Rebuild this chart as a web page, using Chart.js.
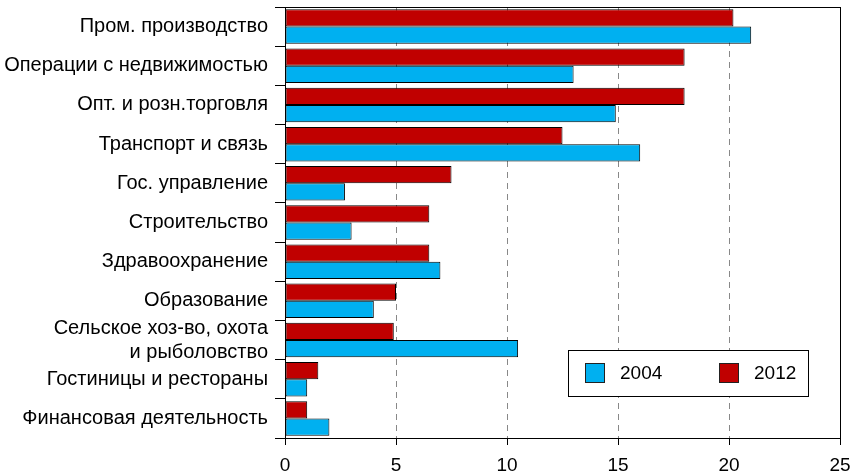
<!DOCTYPE html>
<html>
<head>
<meta charset="utf-8">
<script src="https://cdn.jsdelivr.net/npm/chart.js@4.4.1/dist/chart.umd.min.js"></script>
<style>
  html, body { margin: 0; padding: 0; background: #fff; }
  #wrap { width: 855px; height: 476px; }
</style>
</head>
<body>
<div id="wrap"><canvas id="barCanvas"></canvas></div>
<script>
///// données
let branches = [
    "Пром. производство",
    "Операции с недвижимостью",
    "Опт. и розн.торговля",
    "Транспорт и связь",
    "Гос. управление",
    "Строительство",
    "Здравоохранение",
    "Образование",
    ["Сельское хоз-во, охота", "и рыболовство"],
    "Гостиницы и рестораны",
    "Финансовая деятельность"
];
let val2012 = [20.2, 18.0, 18.0, 12.5, 7.5, 6.5, 6.5, 5.0, 4.9, 1.5, 1.0];
let val2004 = [21.0, 13.0, 14.9, 16.0, 2.7, 3.0, 7.0, 4.0, 10.5, 1.0, 2.0];
let ticksX = [0, 5, 10, 15, 20, 25];

///// cadre + légende dans la zone du graphique
let cadre = {
    id: "cadre",
    afterDraw(chart) {
        let ctx = chart.ctx;
        let a = chart.chartArea;
        ctx.save();
        ctx.setLineDash([]);
        ctx.strokeStyle = "#000";
        ctx.lineWidth = 1;
        ctx.strokeRect(a.left + 0.5, a.top + 0.5, a.right - a.left, a.bottom - a.top);

        // légende
        let bx = 568, by = 350, bw = 240, bh = 46;
        ctx.fillStyle = "#fff";
        ctx.fillRect(bx, by, bw, bh);
        ctx.strokeRect(bx + 0.5, by + 0.5, bw, bh);
        let items = [chart.data.datasets[1], chart.data.datasets[0]];
        let xs = [bx + 17, bx + 151];
        ctx.font = "19px 'Liberation Sans', Arial, sans-serif";
        ctx.textBaseline = "middle";
        items.forEach((ds, i) => {
            ctx.fillStyle = ds.backgroundColor;
            ctx.fillRect(xs[i], by + 13, 19, 19);
            ctx.strokeStyle = "#222";
            ctx.strokeRect(xs[i] + 0.5, by + 13.5, 19, 19);
            ctx.fillStyle = "#000";
            ctx.fillText(ds.label, xs[i] + 35, by + 24);
        });
        ctx.restore();
    }
};

///// graphique
let graph = document.getElementById("barCanvas");
let barChart = new Chart(graph, {
    type: "bar",
    data: {
        labels: branches,
        datasets: [{
            label: "2012",
            data: val2012,
            backgroundColor: "#c00000",
            borderColor: "#000",
            borderWidth: 1,
            borderSkipped: false
        }, {
            label: "2004",
            data: val2004,
            backgroundColor: "#00b0f0",
            borderColor: "#000",
            borderWidth: 1,
            borderSkipped: false
        }]
    },
    options: {
        indexAxis: "y",
        responsive: true,
        maintainAspectRatio: false,
        animation: false,
        categoryPercentage: 0.88,
        barPercentage: 1.0,
        layout: { padding: { top: 7, right: 15, left: 0, bottom: 0 } },
        plugins: {
            legend: { display: false },
            tooltip: { enabled: false }
        },
        scales: {
            x: {
                min: 0,
                max: 25,
                afterBuildTicks: axis => { axis.ticks = ticksX.map(v => ({ value: v })); },
                afterFit: scale => { scale.height = 38; scale.paddingLeft = 0; scale.paddingRight = 0; },
                grid: {
                    color: "#888",
                    tickBorderDash: [1, 0],
                    tickColor: "#000",
                    tickLength: 7
                },
                border: { color: "#000", dash: [6, 5] },
                ticks: {
                    color: "#000",
                    padding: 9,
                    font: { size: 19, family: "'Liberation Sans', Arial, sans-serif" }
                }
            },
            y: {
                afterFit: scale => { scale.width = 285; scale.paddingTop = 0; scale.paddingBottom = 0; },
                grid: {
                    offset: true,
                    drawOnChartArea: false,
                    tickColor: "#000",
                    tickLength: 10
                },
                border: { color: "#000" },
                ticks: {
                    autoSkip: false,
                    color: "#000",
                    padding: 7,
                    font: { size: 20, family: "'Liberation Sans', Arial, sans-serif" }
                }
            }
        }
    },
    plugins: [cadre]
});
</script>
</body>
</html>
